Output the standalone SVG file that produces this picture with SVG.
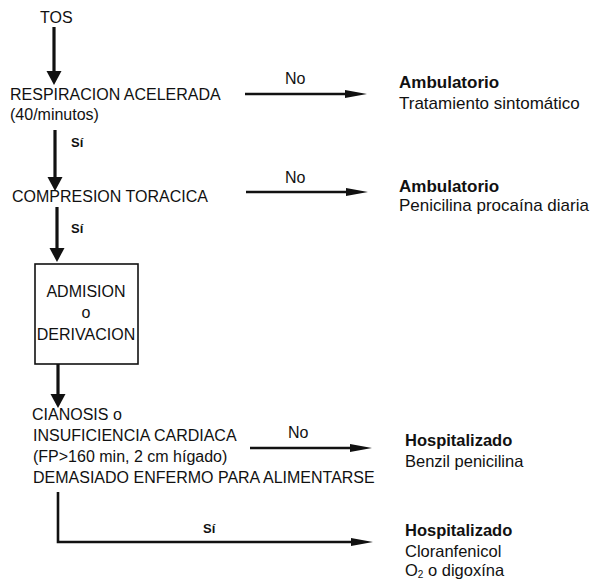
<svg xmlns="http://www.w3.org/2000/svg" width="592" height="582" viewBox="0 0 592 582">
<style>
  text { font-family: "Liberation Sans", Arial, sans-serif; font-size: 16px; fill: #111; }
  .b { font-weight: bold; }
  .r1 { font-size: 17px; }
  .r2 { font-size: 16.5px; }
  .si { font-weight: bold; font-size: 13px; }
  .c { text-anchor: middle; }
  .v { stroke: #111; stroke-width: 3.2; fill: none; }
  .h { stroke: #111; stroke-width: 2.6; fill: none; }
</style>
<defs>
  <marker id="av" markerUnits="userSpaceOnUse" markerWidth="15" markerHeight="16" refX="0" refY="7.5" orient="auto" overflow="visible">
    <path d="M0,0 L14,7.5 L0,15 z" fill="#111"/>
  </marker>
  <marker id="ah" markerUnits="userSpaceOnUse" markerWidth="23" markerHeight="9" refX="0" refY="4" orient="auto" overflow="visible">
    <path d="M0,0 L22,4 L0,8 z" fill="#111"/>
  </marker>
</defs>
<rect width="592" height="582" fill="#fff"/>

<g id="connectors">
  <line class="v" x1="54" y1="27" x2="54" y2="71" marker-end="url(#av)"/>
  <line class="v" x1="55" y1="130" x2="55" y2="177" marker-end="url(#av)"/>
  <line class="v" x1="57" y1="207" x2="57" y2="248" marker-end="url(#av)"/>
  <line class="v" x1="58" y1="364" x2="58" y2="394" marker-end="url(#av)"/>
  <line class="h" x1="245" y1="94" x2="345" y2="94" marker-end="url(#ah)"/>
  <line class="h" x1="246" y1="192" x2="346" y2="192" marker-end="url(#ah)"/>
  <line class="h" x1="250" y1="448" x2="350" y2="448" marker-end="url(#ah)"/>
  <polyline class="h" points="58,492 58,542 351,542" marker-end="url(#ah)"/>
  <text x="285" y="84">No</text>
  <text x="285" y="183">No</text>
  <text x="288" y="438">No</text>
  <text class="si" x="71" y="147">Sí</text>
  <text class="si" x="71" y="233">Sí</text>
  <text class="si" x="203" y="533">Sí</text>
</g>

<g id="tos"><text x="40" y="23">TOS</text></g>

<g id="respiracion">
  <text x="10" y="100">RESPIRACION ACELERADA</text>
  <text x="10" y="120">(40/minutos)</text>
</g>

<g id="compresion"><text x="12" y="202">COMPRESION TORACICA</text></g>

<g id="admision">
  <rect x="35" y="264" width="103" height="100" fill="none" stroke="#111" stroke-width="1.6"/>
  <text class="c" x="86" y="297">ADMISION</text>
  <text class="c" x="86" y="318">o</text>
  <text class="c" x="86" y="340">DERIVACION</text>
</g>

<g id="cianosis">
  <text x="32" y="420">CIANOSIS o</text>
  <text x="33" y="441">INSUFICIENCIA CARDIACA</text>
  <text x="33" y="462">(FP&gt;160 min, 2 cm hígado)</text>
  <text x="33" y="483">DEMASIADO ENFERMO PARA ALIMENTARSE</text>
</g>

<g id="amb1">
  <text class="b r1" x="399" y="88">Ambulatorio</text>
  <text class="r1" x="399" y="109">Tratamiento sintomático</text>
</g>

<g id="amb2">
  <text class="b r1" x="399" y="192">Ambulatorio</text>
  <text class="r1" x="399" y="211">Penicilina procaína diaria</text>
</g>

<g id="hosp1">
  <text class="b r2" x="405" y="446">Hospitalizado</text>
  <text class="r2" x="405" y="467">Benzil penicilina</text>
</g>

<g id="hosp2">
  <text class="b r2" x="405" y="536">Hospitalizado</text>
  <text class="r2" x="405" y="557">Cloranfenicol</text>
  <text class="r2" x="405" y="576">O<tspan font-size="10" dy="2">2</tspan><tspan dy="-2"> o digoxína</tspan></text>
</g>
</svg>
